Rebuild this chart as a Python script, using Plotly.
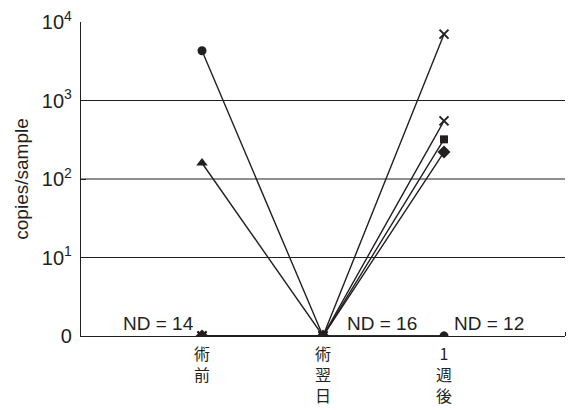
import math
import plotly.graph_objects as go

# Time points after surgery
categories = ["術前", "術翌日", "1週後"]
category_labels = ["術<br>前", "術<br>翌<br>日", "1<br>週<br>後"]

# copies/sample per patient (0 = not detected)
series_circle = [4300, 0, 0]
series_triangle = [160, 0, 0]
series_x_high = [0, 0, 7000]
series_x_low = [0, 0, 550]
series_square = [0, 0, 320]
series_diamond = [0, 0, 220]

# Number of samples below detection limit at each time point
nd_counts = [14, 16, 12]

# Decade gridlines and tick labels
grid_values = [10, 100, 1000]
tick_values = [0, 10, 100, 1000, 10000]
tick_labels = ["0", "10<sup>1</sup>", "10<sup>2</sup>", "10<sup>3</sup>", "10<sup>4</sup>"]

INK = "#231f20"
FONT = "Liberation Sans, Arial, sans-serif"


def to_axis(v):
    # "0" (not detected) sits one decade below 10^1
    return math.log10(v) if v > 0 else 0.0


x_pos = list(range(len(categories)))

fig = go.Figure()

series = [
    (series_circle, "circle", 9),
    (series_triangle, "triangle-up", 10),
    (series_x_high, "x-thin", 9),
    (series_x_low, "x-thin", 9),
    (series_square, "square", 8),
    (series_diamond, "diamond", 10),
]
for values, symbol, size in series:
    fig.add_trace(go.Scatter(
        x=x_pos,
        y=[to_axis(v) for v in values],
        mode="lines+markers",
        line=dict(color=INK, width=1.4),
        marker=dict(symbol=symbol, size=size, color=INK,
                    line=dict(color=INK, width=2 if symbol == "x-thin" else 0)),
        showlegend=False,
        hoverinfo="skip",
    ))

# Horizontal decade lines
for g in grid_values:
    fig.add_shape(type="line", xref="paper", x0=0, x1=1,
                  yref="y", y0=to_axis(g), y1=to_axis(g),
                  line=dict(color=INK, width=1.2), layer="below")

# ND annotations along the baseline
nd_layout = [(0, "right", -6), (1, "left", 22), (2, "left", 8)]
for (xi, anchor, shift), n in zip(nd_layout, nd_counts):
    fig.add_annotation(x=xi, y=0, text=f"ND = {n}", showarrow=False,
                       xanchor=anchor, yanchor="bottom", xshift=shift, yshift=0,
                       font=dict(family=FONT, size=19, color=INK))

fig.update_layout(
    width=568, height=410,
    margin=dict(l=81, r=3, t=22, b=74),
    paper_bgcolor="white", plot_bgcolor="white",
    font=dict(family=FONT, color=INK),
    xaxis=dict(
        range=[-1, 3], automargin=False,
        tickvals=x_pos, ticktext=category_labels,
        showgrid=False, zeroline=False,
        showline=True, linecolor=INK, linewidth=1.2,
        ticks="", ticklabelstandoff=4,
        tickfont=dict(family="Noto Sans CJK JP, sans-serif", size=16, color=INK),
        minor=dict(tickvals=[3], ticks="inside", ticklen=4, tickcolor=INK, tickwidth=1.2),
    ),
    yaxis=dict(
        range=[0, 4], automargin=False,
        tickvals=[to_axis(v) for v in tick_values], ticktext=tick_labels,
        showgrid=False, zeroline=False,
        showline=True, linecolor=INK, linewidth=1.2,
        ticks="inside", ticklen=5, tickcolor=INK, tickwidth=1.2,
        ticklabelstandoff=4,
        tickfont=dict(family=FONT, size=20, color=INK),
        title=dict(text="copies/sample", font=dict(family=FONT, size=19, color=INK), standoff=8),
    ),
)

fig.write_html("out.html")
